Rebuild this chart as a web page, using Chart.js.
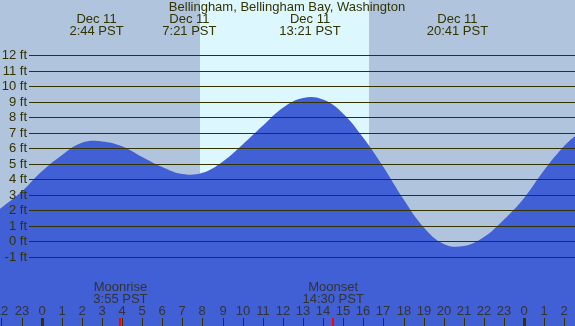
<!DOCTYPE html>
<html>
<head>
<meta charset="utf-8">
<script src="https://cdn.jsdelivr.net/npm/chart.js@4"></script>
<style>
body{margin:0;padding:0;background:#b0c4de;}
#wrap{width:575px;height:326px;}
</style>
</head>
<body>
<div id="wrap"><canvas id="myChart" width="575" height="326"></canvas></div>
<script>
// tide height (hours from midnight Dec 11, feet)
var tideHours = [-2.07,-1,0,1,2,3,4,5,6,7,8,9,10,11,12,13,14,15,16,17,18,19,20,21,22,23,24,25,26,26.53];
var tideFeet  = [2.1,3.2,4.5,5.56,6.36,6.45,6.14,5.45,4.8,4.34,4.42,5.14,6.25,7.45,8.62,9.25,9.15,8.24,6.68,4.79,2.71,0.91,-0.17,-0.3,0.28,1.41,2.8,4.6,6.16,6.8];

var feetTicks = [-1,0,1,2,3,4,5,6,7,8,9,10,11,12];
var hourTicks = [-2,-1,0,1,2,3,4,5,6,7,8,9,10,11,12,13,14,15,16,17,18,19,20,21,22,23,24,25,26];

var eventHours = [2.73,7.35,13.35,20.68];
var eventDates = ['Dec 11','Dec 11','Dec 11','Dec 11'];
var eventTimes = ['2:44 PST','7:21 PST','13:21 PST','20:41 PST'];

var moonHours = [3.92,14.5];
var moonNames = ['Moonrise','Moonset'];
var moonTimes = ['3:55 PST','14:30 PST'];

var sunrise = 7.88;
var sunset = 16.27;

var titulo = 'Bellingham, Bellingham Bay, Washington';

var puntos = [];
for (i=0;i<tideHours.length;i++){
	puntos.push({x:tideHours[i], y:tideFeet[i]});
}

var txtColor = '#333300';
var fuente = '13px "Liberation Sans", Arial, sans-serif';

var fondo = {
	id:'fondo',
	beforeDatasetsDraw: function(chart){
		var ctx = chart.ctx;
		var xs = chart.scales.x;
		ctx.save();
		ctx.fillStyle = '#b0c4de';
		ctx.fillRect(0,0,chart.width,chart.height);
		var a = Math.round(xs.getPixelForValue(sunrise));
		var b = Math.round(xs.getPixelForValue(sunset));
		ctx.fillStyle = '#ddf7ff';
		ctx.fillRect(a,0,b-a,chart.height);
		ctx.restore();
	},
	afterDatasetsDraw: function(chart){
		var ctx = chart.ctx;
		var xs = chart.scales.x;
		var ys = chart.scales.y;
		ctx.save();
		ctx.font = fuente;
		// horizontal lines + labels
		ctx.strokeStyle = txtColor;
		ctx.lineWidth = 1;
		ctx.fillStyle = txtColor;
		ctx.textAlign = 'right';
		ctx.textBaseline = 'middle';
		for (i=0;i<feetTicks.length;i++){
			var y = Math.round(ys.getPixelForValue(feetTicks[i])) + 0.5;
			ctx.beginPath();
			ctx.moveTo(29,y);
			ctx.lineTo(chart.width,y);
			ctx.stroke();
			ctx.fillText(feetTicks[i]+' ft',27,y);
		}
		// title and tide events
		ctx.textAlign = 'center';
		ctx.fillText(titulo,287,7);
		for (i=0;i<eventHours.length;i++){
			var x = xs.getPixelForValue(eventHours[i]);
			ctx.fillText(eventDates[i],x,19);
			ctx.fillText(eventTimes[i],x,31);
		}
		// hour labels and ticks
		ctx.fillStyle = '#333333';
		for (i=0;i<hourTicks.length;i++){
			var h = hourTicks[i];
			var x = Math.round(xs.getPixelForValue(h));
			var lab = ((h%24)+24)%24;
			ctx.fillText(String(lab),x,311);
			ctx.fillStyle = txtColor;
			if (lab==0){
				ctx.fillRect(x-1,318,3,8);
			} else {
				ctx.fillRect(x,318,1,8);
			}
			ctx.fillStyle = '#333333';
		}
		// moon
		for (i=0;i<moonHours.length;i++){
			var x = xs.getPixelForValue(moonHours[i]);
			ctx.fillText(moonNames[i],x,287);
			ctx.fillText(moonTimes[i],x,299);
			ctx.fillStyle = 'red';
			ctx.fillRect(Math.round(x)-1,318,2,8);
			ctx.fillStyle = '#333333';
		}
		ctx.restore();
	}
};

var config = {
	type:'line',
	data:{
		datasets:[{
			data:puntos,
			borderWidth:0,
			borderColor:'rgba(0,0,0,0)',
			backgroundColor:'#4160d6',
			fill:'start',
			pointRadius:0,
			tension:0.4
		}]
	},
	options:{
		responsive:false,
		animation:false,
		layout:{padding:0},
		plugins:{legend:{display:false},tooltip:{enabled:false},title:{display:false}},
		scales:{
			x:{type:'linear',min:-2.07,max:26.53,display:false},
			y:{min:-5.46,max:15.57,display:false}
		}
	},
	plugins:[fondo]
};

var myChart = new Chart(document.getElementById('myChart'),config);
</script>
</body>
</html>
